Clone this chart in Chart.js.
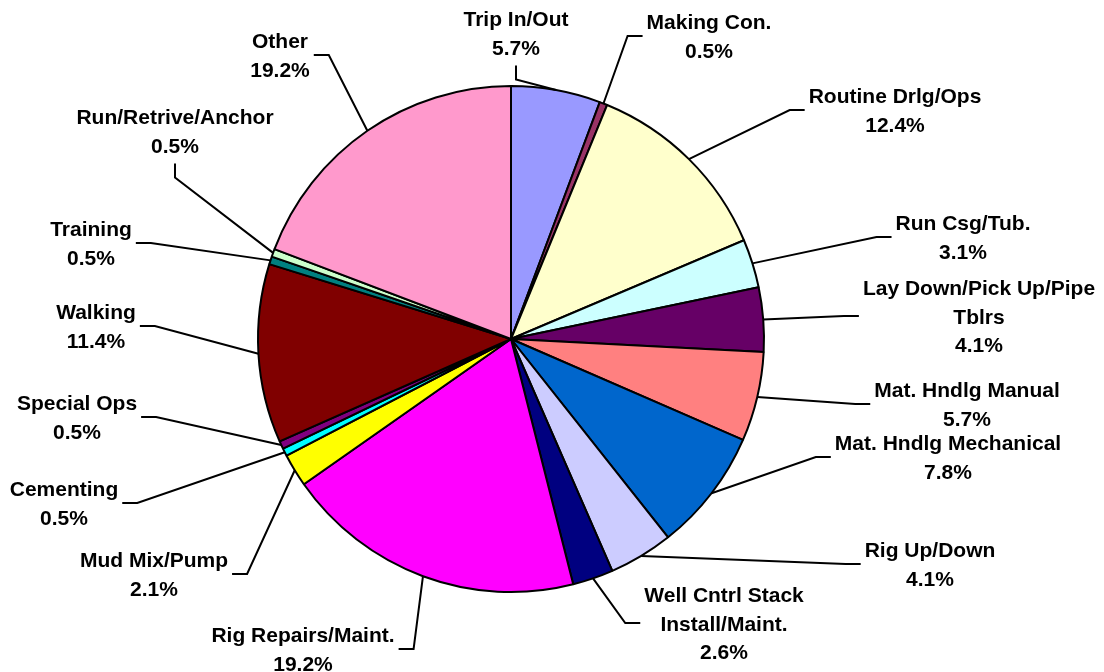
<!DOCTYPE html>
<html lang="en">
<head>
<meta charset="UTF-8">
<title>Time by Activity</title>
<script src="https://cdn.jsdelivr.net/npm/chart.js"></script>
<style>
    html, body { margin: 0; padding: 0; background: #fff; }
    #wrap { width: 1104px; height: 672px; }
</style>
</head>
<body>
<div id="wrap"><canvas id="pie" width="1104" height="672"></canvas></div>
<script>
// Slices, clockwise from 12 o'clock
const categories = [
    'Trip In/Out', 'Making Con.', 'Routine Drlg/Ops', 'Run Csg/Tub.',
    'Lay Down/Pick Up/Pipe\nTblrs', 'Mat. Hndlg Manual', 'Mat. Hndlg Mechanical',
    'Rig Up/Down', 'Well Cntrl Stack\nInstall/Maint.', 'Rig Repairs/Maint.',
    'Mud Mix/Pump', 'Cementing', 'Special Ops', 'Walking', 'Training',
    'Run/Retrive/Anchor', 'Other'
];
const values = [5.7, 0.5, 12.4, 3.1, 4.1, 5.7, 7.8, 4.1, 2.6, 19.2, 2.1, 0.5, 0.5, 11.4, 0.5, 0.5, 19.2];
const colors = [
    '#9999FF', '#993366', '#FFFFCC', '#CCFFFF', '#660066', '#FF8080', '#0066CC',
    '#CCCCFF', '#000080', '#FF00FF', '#FFFF00', '#00FFFF', '#800080', '#800000',
    '#008080', '#CCFFCC', '#FF99CC'
];

// where each label block sits (centre x, centre y) and which side the leader joins
const labelSpots = [
    [516, 33, 'bottom'], [709, 36, 'left'], [895, 110, 'left'], [963, 237, 'left'],
    [979, 316, 'left'], [967, 404, 'left'], [948, 457, 'left'], [930, 564, 'left'],
    [724, 623, 'left'], [303, 649, 'right'], [154, 574, 'right'], [64, 503, 'right'],
    [77, 417, 'right'], [96, 326, 'right'], [91, 243, 'right'], [175, 131, 'bottom'],
    [280, 55, 'right']
];
const LINE_H = 28.5;

const outsideLabels = {
    id: 'outsideLabels',
    afterDatasetsDraw(chart) {
        const ctx = chart.ctx;
        const meta = chart.getDatasetMeta(0);
        ctx.save();
        ctx.font = 'bold 21px "Liberation Sans", Arial, sans-serif';
        ctx.textAlign = 'center';
        ctx.textBaseline = 'alphabetic';
        ctx.fillStyle = '#000';
        ctx.strokeStyle = '#000';
        ctx.lineWidth = 2;
        meta.data.forEach((arc, i) => {
            const lines = categories[i].split('\n').concat(values[i].toFixed(1) + '%');
            const [cx, cy, side] = labelSpots[i];
            const w = Math.max(...lines.map(t => ctx.measureText(t).width));
            const h = lines.length * LINE_H;
            const mid = (arc.startAngle + arc.endAngle) / 2;
            const ax = arc.x + Math.cos(mid) * arc.outerRadius;
            const ay = arc.y + Math.sin(mid) * arc.outerRadius;
            let ex, ey, kx, ky;
            if (side === 'left') {
                ex = cx - w / 2 - 4; ey = cy; kx = ex - 15; ky = ey;
            } else if (side === 'right') {
                ex = cx + w / 2 + 4; ey = cy; kx = ex + 15; ky = ey;
            } else {
                ex = cx; ey = cy + h / 2 + 4; kx = ex; ky = ey + 14;
            }
            ctx.beginPath();
            ctx.moveTo(ax, ay);
            ctx.lineTo(kx, ky);
            ctx.lineTo(ex, ey);
            ctx.stroke();
            lines.forEach((t, j) => {
                ctx.fillText(t, cx, cy - h / 2 + LINE_H * (j + 0.5) + 7.5);
            });
        });
        ctx.restore();
    }
};

new Chart(document.getElementById('pie'), {
    type: 'pie',
    data: {
        labels: categories,
        datasets: [{
            data: values,
            backgroundColor: colors,
            borderColor: '#000',
            borderWidth: 2
        }]
    },
    options: {
        responsive: false,
        animation: false,
        layout: { padding: { top: 85, bottom: 79, left: 257, right: 339 } },
        plugins: { legend: { display: false }, tooltip: { enabled: false } }
    },
    plugins: [outsideLabels]
});
</script>
</body>
</html>
